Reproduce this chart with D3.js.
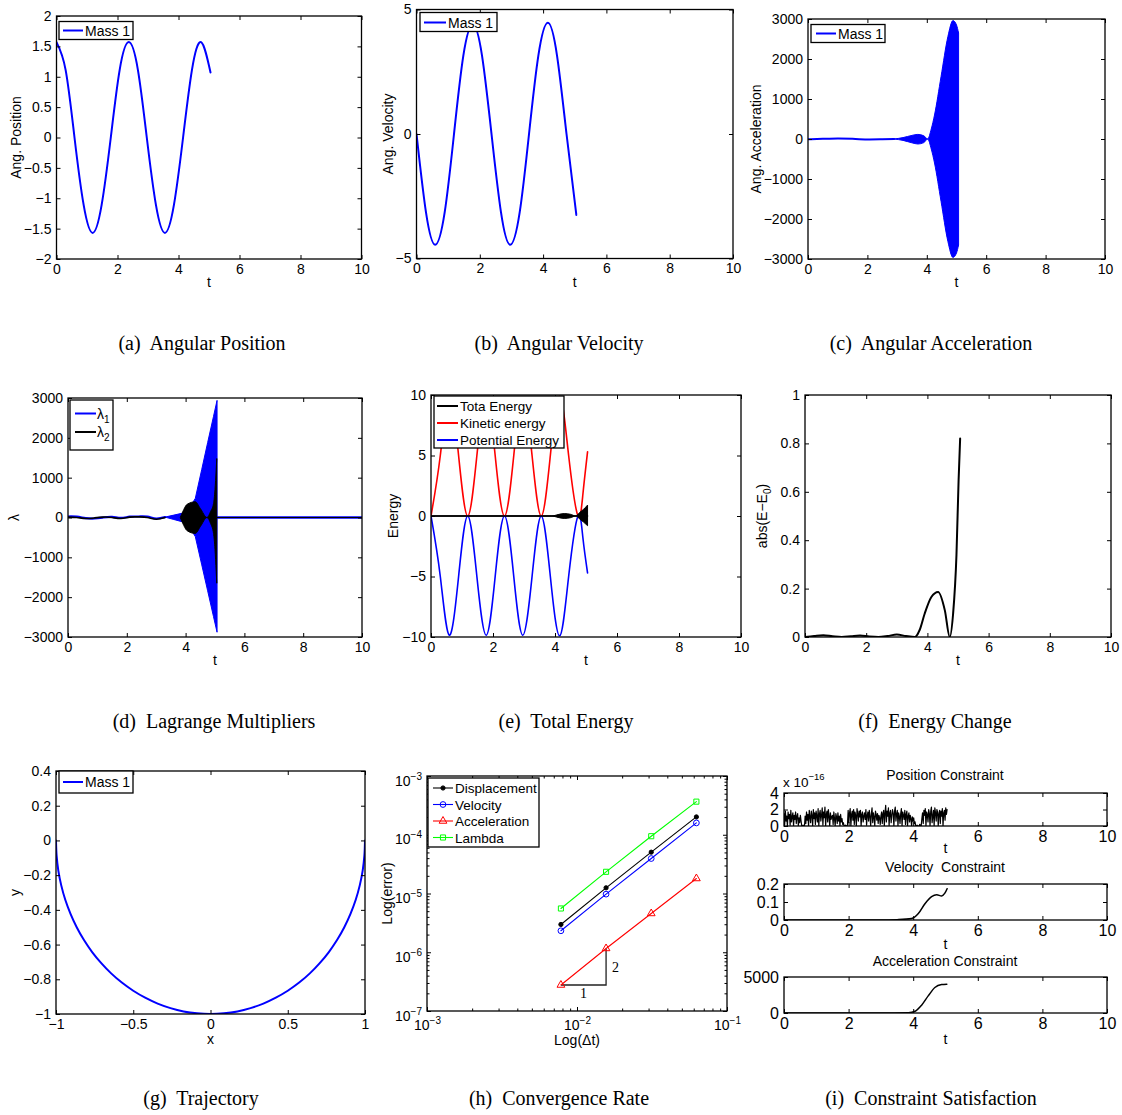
<!DOCTYPE html>
<html>
<head>
<meta charset="utf-8">
<script src="https://cdn.jsdelivr.net/npm/d3@7"></script>
<style>
  body { margin: 0; background: #fff; }
</style>
</head>
<body>
<script>
/*
 * Nine-panel pendulum figure (MATLAB style axes, drawn with d3)
 */

// ---------- data ----------

// (a) angular position / (b) angular velocity
var angT   = [0, 0.3, 0.59, 0.89, 1.185, 1.48, 1.78, 2.07, 2.37, 2.67, 2.96, 3.26, 3.555, 3.85, 4.15, 4.44, 4.74, 5.05];
var angPos = [1.57, 1.11, 0, -1.11, -1.57, -1.11, 0, 1.11, 1.57, 1.11, 0, -1.11, -1.57, -1.11, 0, 1.11, 1.57, 1.07];
var angVel = [0, -3.15, -4.45, -3.15, 0, 3.15, 4.4, 3.15, 0, -3.15, -4.45, -3.15, 0, 3.15, 4.47, 3.15, 0, -3.25];

// (c) angular acceleration: quiet part + envelope of the fast oscillation
var accLineT = [0, 0.5, 1, 1.5, 2, 2.5, 2.9];
var accLine  = [-5, 5, 15, 5, -10, -5, 0];
var accEnvT  = [2.9, 3.2, 3.5, 3.7, 3.9, 4.03, 4.15, 4.26, 4.48, 4.71, 4.88, 5.0, 5.07];
var accUp    = [0, 35, 90, 115, 80, 0, 250, 600, 1560, 2560, 2960, 2850, 2650];
var accLo    = [0, -35, -95, -125, -90, 0, -250, -600, -1560, -2560, -2960, -2850, -2650];

// (d) Lagrange multipliers
var lamLineT = [0, 0.3, 0.6, 0.9, 1.2, 1.5, 1.8, 2.1, 2.4, 2.7, 3.0, 3.3];
var lam1Line = [25, 20, -15, -25, 0, 15, -10, 20, 25, 20, -25, 10];
var lam2Line = [10, 0, -25, -10, 10, 0, -25, 10, 15, 0, -45, 0];
var lam1EnvT = [3.3, 3.6, 3.9, 4.1, 4.33, 4.55, 4.75, 4.95, 5.07];
var lam1Up   = [10, 60, 110, 200, 480, 1210, 1880, 2540, 2940];
var lam1Lo   = [10, -50, -110, -200, -480, -1190, -1840, -2490, -2880];
var lam2EnvT = [3.82, 3.9, 4.05, 4.33, 4.5, 4.73, 4.85, 4.95, 5.0, 5.04, 5.06];
var lam2Up   = [0, 140, 330, 395, 227, 0, 150, 350, 700, 1200, 1480];
var lam2Lo   = [0, -140, -330, -400, -230, 0, -150, -400, -800, -1350, -1650];
var lamTailT = [5.06, 10];
var lamTail  = [0, 0];

// (e) energies
var enT    = [0, 0.3, 0.59, 0.89, 1.185, 1.48, 1.78, 2.07, 2.37, 2.67, 2.96, 3.26, 3.555, 3.85, 4.15, 4.44, 4.74, 4.9, 5.05];
var kinE   = [0, 5, 9.85, 5, 0, 5, 9.85, 5, 0, 5, 9.85, 5, 0, 5, 9.9, 5, 0, 1.8, 5.3];
var potE   = [0, -5, -9.85, -5, 0, -5, -9.85, -5, 0, -5, -9.85, -5, 0, -5, -9.9, -5, 0, -1.8, -4.7];
var totT   = [0, 3.9, 4.1, 4.3, 4.5, 4.67, 4.8, 4.92, 5.05];
var totUp  = [0, 0, 0.12, 0.2, 0.14, 0, 0.3, 0.55, 0.9];
var totLo  = [0, 0, -0.12, -0.2, -0.14, 0, -0.25, -0.5, -0.8];

// (f) energy change
var dET = [0, 0.3, 0.6, 0.9, 1.2, 1.5, 1.8, 2.1, 2.4, 2.7, 3.0, 3.3, 3.59, 3.75, 3.91, 4.13, 4.35, 4.57, 4.73, 4.84, 4.95, 5.02, 5.07];
var dE  = [0, 0.004, 0.007, 0.003, 0, 0.003, 0.006, 0.002, 0, 0.004, 0.01, 0.004, 0, 0.03, 0.096, 0.165, 0.186, 0.11, 0, 0.096, 0.34, 0.65, 0.82];

// (g) trajectory
var trajX = [-1, -0.996, -0.985, -0.966, -0.94, -0.906, -0.866, -0.819, -0.766, -0.707, -0.643, -0.574, -0.5, -0.423, -0.342, -0.259, -0.174, -0.087,
             0, 0.087, 0.174, 0.259, 0.342, 0.423, 0.5, 0.574, 0.643, 0.707, 0.766, 0.819, 0.866, 0.906, 0.94, 0.966, 0.985, 0.996, 1];
var trajY = [0, -0.087, -0.174, -0.259, -0.342, -0.423, -0.5, -0.574, -0.643, -0.707, -0.766, -0.819, -0.866, -0.906, -0.94, -0.966, -0.985, -0.996,
             -1, -0.996, -0.985, -0.966, -0.94, -0.906, -0.866, -0.819, -0.766, -0.707, -0.643, -0.574, -0.5, -0.423, -0.342, -0.259, -0.174, -0.087, 0];

// (h) convergence
var dtVals   = [0.0078125, 0.015625, 0.03125, 0.0625];
var errDisp  = [2.97e-6, 1.25e-5, 5.05e-5, 2.01e-4];
var errVel   = [2.32e-6, 9.75e-6, 3.94e-5, 1.59e-4];
var errAcc   = [2.77e-7, 1.16e-6, 4.57e-6, 1.80e-5];
var errLam   = [5.56e-6, 2.34e-5, 9.44e-5, 3.66e-4];
var convNames = ["Displacement", "Velocity", "Acceleration", "Lambda"];

// (i) constraints
var posConDt = 5.05 / 239;   // sample spacing of the position trace
var posCon = [ // x 1e-16
  1.5,0.2,1.8,0.6,1.2,0,1.7,0.9,1.4,0.1,1.9,0.5,1.1,1.6,0,1.3,0.8,1.7,0.3,1.2,1.5,0,1.0,0.4,1.3,0.6,
  0,0,0.1,0,0,
  1.2,0.3,1.7,0.7,1.4,0,1.9,1.1,0.4,1.8,1.3,0,2.0,0.9,1.6,0.2,1.8,1.2,0.5,2.1,
  0,1.5,1.9,0.6,1.3,2.2,0.1,1.7,1.0,2.3,0,1.4,1.8,0.5,2.0,1.2,0,1.6,0.8,1.1,
  1.3,0.2,1.7,0.9,0,1.5,1.1,0.3,1.6,0.6,1.2,0,1.4,0.5,0.9,0.2,0.4,
  0,0,0.1,0,0,0.1,
  1.9,0.4,1.6,2.1,0,1.4,1.8,0.7,2.0,0.2,1.7,1.3,0,2.1,1.5,0.6,1.8,1.1,1.9,0,
  1.4,1.7,0.5,1.2,1.6,0.8,2.0,0.1,1.3,1.7,0.6,1.9,1.2,0,1.5,2.2,0.4,1.6,1.1,0,
  1.8,1.4,0.7,1.5,0.3,1.3,1.0,0.2,1.2,
  1.7,0.3,1.5,1.9,0,1.6,2.5,0.5,1.8,1.2,2.2,0,1.6,1.9,0.4,1.3,2.0,1.5,0,1.8,
  2.3,0.6,1.4,1.9,0,1.6,1.2,0.3,1.5,2.1,0,1.7,1.3,0.8,1.9,0.2,1.4,1.8,0,1.2,
  1.6,0.5,1.3,0.9,0,1.1,0.6,1.0,0.3,0.5,
  0,0,0.1,0,0,0,0.2,0,0,
  0.9,1.6,0.3,1.9,1.3,2.1,0,1.7,1.4,0.5,2.0,1.5,0,1.8,2.3,0.4,1.2,1.9,0,2.2,
  1.6,0.6,2.0,1.7,0,1.5,1.9,0.3,1.8,1.2,2.1,0,1.6,1.9,0.7,2.2,1.4,2.0
];
var velConT = [0, 3.0, 3.5, 3.95, 4.16, 4.37, 4.57, 4.73, 4.88, 4.98, 5.05];
var velCon  = [0, 0, 0.002, 0.008, 0.036, 0.092, 0.13, 0.14, 0.134, 0.149, 0.174];
var accConT = [0, 3.0, 3.85, 4.06, 4.26, 4.47, 4.67, 4.88, 5.04];
var accCon  = [0, 0, 40, 240, 1090, 2410, 3540, 3960, 4010];

var captions = ["(a)\u00a0 Angular Position", "(b)\u00a0 Angular Velocity", "(c)\u00a0 Angular Acceleration",
                "(d)\u00a0 Lagrange Multipliers", "(e)\u00a0 Total Energy", "(f)\u00a0 Energy Change",
                "(g)\u00a0 Trajectory", "(h)\u00a0 Convergence Rate", "(i)\u00a0 Constraint Satisfaction"];

var tTicks = [0, 2, 4, 6, 8, 10];

// ---------- helpers ----------
var FONT = '"Liberation Sans", Arial, Helvetica, sans-serif';
var SERIF = '"Liberation Serif", "Times New Roman", serif';
var fmt = d3.format("~g");

var svg = d3.select("body").append("svg")
    .attr("width", 1122).attr("height", 1115)
    .style("font-family", FONT);
svg.append("rect").attr("width", 1122).attr("height", 1115).attr("fill", "#fff");

var clipN = 0;

function makeAxes(b, xd, yd, o) {
    var x = (o.xlog ? d3.scaleLog() : d3.scaleLinear()).domain(xd).range([b.x0, b.x1]);
    var y = (o.ylog ? d3.scaleLog() : d3.scaleLinear()).domain(yd).range([b.y1, b.y0]);
    var g = svg.append("g");
    var id = "clip" + (clipN++);
    g.append("clipPath").attr("id", id).append("rect")
        .attr("x", b.x0).attr("y", b.y0).attr("width", b.x1 - b.x0).attr("height", b.y1 - b.y0);
    var plot = g.append("g").attr("clip-path", "url(#" + id + ")");
    var fs = o.fs || 14;

    function drawAxis(fn, scale, ticks, tx, ty, labels, size, pad) {
        var a = fn(scale).tickValues(ticks).tickSize(-size).tickPadding(pad)
            .tickFormat(labels ? fmt : function () { return ""; });
        var ag = g.append("g").attr("transform", "translate(" + tx + "," + ty + ")").call(a);
        ag.select(".domain").remove();
        ag.attr("font-size", fs).attr("font-family", FONT);
        ag.selectAll("line").attr("stroke", "#000");
        ag.selectAll("text").attr("fill", "#000");
        return ag;
    }
    function supLabels(ag) {
        ag.selectAll(".tick text").each(function (d) {
            var t = d3.select(this).text(null);
            t.append("tspan").text("10");
            t.append("tspan").attr("dy", -6).attr("font-size", 10)
                .text("\u2212" + Math.round(-Math.log10(d)));
        });
    }

    if (o.xminor) {
        drawAxis(d3.axisBottom, x, o.xminor, 0, b.y1, false, 2.5, 5);
        drawAxis(d3.axisTop, x, o.xminor, 0, b.y0, false, 2.5, 5);
    }
    if (o.yminor) {
        drawAxis(d3.axisLeft, y, o.yminor, b.x0, 0, false, 2.5, 5);
        drawAxis(d3.axisRight, y, o.yminor, b.x1, 0, false, 2.5, 5);
    }
    var bx = drawAxis(d3.axisBottom, x, o.xticks, 0, b.y1, true, 4, o.xlog ? 9 : 5);
    drawAxis(d3.axisTop, x, o.xticks, 0, b.y0, false, 4, 5);
    var ly = drawAxis(d3.axisLeft, y, o.yticks, b.x0, 0, true, 4, 5);
    drawAxis(d3.axisRight, y, o.yticks, b.x1, 0, false, 4, 5);
    if (o.xlog) supLabels(bx);
    if (o.ylog) { supLabels(ly); ly.selectAll(".tick text").attr("dy", "0.65em"); }

    g.append("rect")
        .attr("x", b.x0).attr("y", b.y0).attr("width", b.x1 - b.x0).attr("height", b.y1 - b.y0)
        .attr("fill", "none").attr("stroke", "#000").attr("stroke-width", 1.3);

    return { x: x, y: y, g: g, plot: plot, b: b };
}

function drawLine(ax, xs, ys, color, w, curve) {
    var pts = xs.map(function (v, i) { return [v, ys[i]]; });
    ax.plot.append("path").datum(pts)
        .attr("d", d3.line()
            .x(function (d) { return ax.x(d[0]); })
            .y(function (d) { return ax.y(d[1]); })
            .curve(curve || d3.curveLinear))
        .attr("fill", "none").attr("stroke", color).attr("stroke-width", w)
        .attr("stroke-linejoin", "round").attr("stroke-linecap", "round");
}

function drawBand(ax, xs, lo, hi, color, curve) {
    var pts = xs.map(function (v, i) { return [v, lo[i], hi[i]]; });
    ax.plot.append("path").datum(pts)
        .attr("d", d3.area()
            .x(function (d) { return ax.x(d[0]); })
            .y0(function (d) { return ax.y(d[1]); })
            .y1(function (d) { return ax.y(d[2]); })
            .curve(curve || d3.curveLinear))
        .attr("fill", color).attr("stroke", color).attr("stroke-width", 1);
}

function xlabel(ax, yb, fill) {
    var t = ax.g.append("text").attr("x", (ax.b.x0 + ax.b.x1) / 2).attr("y", yb)
        .attr("text-anchor", "middle").attr("font-size", 14);
    fill(t);
}
function ylabel(ax, xb, fill) {
    var t = ax.g.append("text")
        .attr("transform", "translate(" + xb + "," + (ax.b.y0 + ax.b.y1) / 2 + ") rotate(-90)")
        .attr("text-anchor", "middle").attr("font-size", 14);
    fill(t);
}
function txt(s) { return function (t) { t.text(s); }; }

function legend(ax, box, items) {
    var lg = ax.g.append("g").attr("font-size", box.fs || 14);
    lg.append("rect").attr("x", box.x).attr("y", box.y).attr("width", box.w).attr("height", box.h)
        .attr("fill", "#fff").attr("stroke", "#000").attr("stroke-width", 1.3);
    items.forEach(function (it, i) {
        var yy = box.y + box.first + i * box.step;
        lg.append("line").attr("x1", box.lx0).attr("x2", box.lx1).attr("y1", yy).attr("y2", yy)
            .attr("stroke", it.color).attr("stroke-width", it.w || 2);
        if (it.marker) {
            lg.append("path")
                .attr("transform", "translate(" + (box.lx0 + box.lx1) / 2 + "," + yy + ")")
                .attr("d", it.marker).attr("fill", it.mfill).attr("stroke", it.color).attr("stroke-width", 1);
        }
        var t = lg.append("text").attr("x", box.tx).attr("y", yy + 5);
        t.append("tspan").text(it.label);
        if (it.sub) t.append("tspan").attr("dy", 4).attr("font-size", 10).text(it.sub);
    });
}

// ---------- (a) angular position ----------
var axA = makeAxes({ x0: 56.5, x1: 361.5, y0: 16, y1: 259 }, [0, 10], [-2, 2],
    { xticks: tTicks, yticks: [-2, -1.5, -1, -0.5, 0, 0.5, 1, 1.5, 2] });
drawLine(axA, angT, angPos, "#0000ff", 2, d3.curveNatural);
xlabel(axA, 287, txt("t"));
ylabel(axA, 21, txt("Ang. Position"));
legend(axA, { x: 59, y: 21.5, w: 74, h: 18, first: 9, step: 0, lx0: 63, lx1: 83, tx: 85 },
    [{ color: "#0000ff", label: "Mass 1" }]);

// ---------- (b) angular velocity ----------
var axB = makeAxes({ x0: 416.5, x1: 733, y0: 9.5, y1: 258.5 }, [0, 10], [-5, 5],
    { xticks: tTicks, yticks: [-5, 0, 5] });
drawLine(axB, angT, angVel, "#0000ff", 2, d3.curveNatural);
xlabel(axB, 287, txt("t"));
ylabel(axB, 393, txt("Ang. Velocity"));
legend(axB, { x: 420, y: 12.5, w: 77, h: 19, first: 10, step: 0, lx0: 424, lx1: 446, tx: 448 },
    [{ color: "#0000ff", label: "Mass 1" }]);

// ---------- (c) angular acceleration ----------
var axC = makeAxes({ x0: 808, x1: 1105, y0: 19, y1: 259 }, [0, 10], [-3000, 3000],
    { xticks: tTicks, yticks: [-3000, -2000, -1000, 0, 1000, 2000, 3000] });
drawLine(axC, accLineT, accLine, "#0000ff", 2, d3.curveNatural);
drawBand(axC, accEnvT, accLo, accUp, "#0000ff", d3.curveMonotoneX);
xlabel(axC, 287, txt("t"));
ylabel(axC, 761, txt("Ang. Acceleration"));
legend(axC, { x: 811, y: 24.5, w: 74, h: 18, first: 9, step: 0, lx0: 816, lx1: 836, tx: 838 },
    [{ color: "#0000ff", label: "Mass 1" }]);

// ---------- (d) Lagrange multipliers ----------
var axD = makeAxes({ x0: 68, x1: 362, y0: 398, y1: 637 }, [0, 10], [-3000, 3000],
    { xticks: tTicks, yticks: [-3000, -2000, -1000, 0, 1000, 2000, 3000] });
drawLine(axD, lamLineT, lam1Line, "#0000ff", 2.2, d3.curveNatural);
drawBand(axD, lam1EnvT, lam1Lo, lam1Up, "#0000ff", d3.curveLinear);
drawLine(axD, lamTailT, lamTail, "#0000ff", 2.6);
drawLine(axD, lamLineT, lam2Line, "#000", 1.6, d3.curveNatural);
drawBand(axD, lam2EnvT, lam2Lo, lam2Up, "#000", d3.curveMonotoneX);
drawLine(axD, lamTailT, lamTail, "#000", 1);
xlabel(axD, 665, txt("t"));
ylabel(axD, 19, txt("\u03bb"));
legend(axD, { x: 70, y: 400, w: 43, h: 50, first: 13.5, step: 18.5, lx0: 75, lx1: 96, tx: 97 },
    [{ color: "#0000ff", label: "\u03bb", sub: "1" }, { color: "#000", label: "\u03bb", sub: "2" }]);

// ---------- (e) total energy ----------
var axE = makeAxes({ x0: 431, x1: 741, y0: 395, y1: 637 }, [0, 10], [-10, 10],
    { xticks: tTicks, yticks: [-10, -5, 0, 5, 10] });
drawLine(axE, [0, 5.05], [0, 0], "#000", 1.5);
drawLine(axE, enT, kinE, "#ff0000", 1.6, d3.curveNatural);
drawLine(axE, enT, potE, "#0000ff", 1.6, d3.curveNatural);
drawBand(axE, totT, totLo, totUp, "#000", d3.curveMonotoneX);
xlabel(axE, 665, txt("t"));
ylabel(axE, 398, txt("Energy"));
legend(axE, { x: 434, y: 396, w: 130, h: 52, first: 10, step: 17, lx0: 437, lx1: 458, tx: 460, fs: 13.5 },
    [{ color: "#000", label: "Tota Energy" }, { color: "#ff0000", label: "Kinetic energy" },
     { color: "#0000ff", label: "Potential Energy" }]);

// ---------- (f) energy change ----------
var axF = makeAxes({ x0: 805, x1: 1111, y0: 395, y1: 637 }, [0, 10], [0, 1],
    { xticks: tTicks, yticks: [0, 0.2, 0.4, 0.6, 0.8, 1] });
drawLine(axF, dET, dE, "#000", 2, d3.curveMonotoneX);
xlabel(axF, 665, txt("t"));
ylabel(axF, 767, function (t) {
    t.append("tspan").text("abs(E\u2212E");
    t.append("tspan").attr("dy", 4).attr("font-size", 10).text("0");
    t.append("tspan").attr("dy", -4).text(")");
});

// ---------- (g) trajectory ----------
var axG = makeAxes({ x0: 56, x1: 365, y0: 771, y1: 1014 }, [-1, 1], [-1, 0.4],
    { xticks: [-1, -0.5, 0, 0.5, 1], yticks: [-1, -0.8, -0.6, -0.4, -0.2, 0, 0.2, 0.4] });
drawLine(axG, trajX, trajY, "#0000ff", 2, d3.curveCatmullRom.alpha(0.5));
xlabel(axG, 1044, txt("x"));
ylabel(axG, 20, txt("y"));
legend(axG, { x: 59, y: 771, w: 74, h: 22, first: 11, step: 0, lx0: 63, lx1: 83, tx: 85 },
    [{ color: "#0000ff", label: "Mass 1" }]);

// ---------- (h) convergence rate ----------
function minorTicks(lo, hi) {
    var out = [];
    for (var p = lo; p < hi; p++) {
        for (var k = 2; k <= 9; k++) out.push(k * Math.pow(10, p));
    }
    return out;
}
var axH = makeAxes({ x0: 427, x1: 727, y0: 776, y1: 1011 }, [1e-3, 1e-1], [1e-7, 1e-3],
    { xlog: true, ylog: true, xticks: [1e-3, 1e-2, 1e-1], yticks: [1e-7, 1e-6, 1e-5, 1e-4, 1e-3],
      xminor: minorTicks(-3, -1), yminor: minorTicks(-7, -3) });

var convSeries = [
    { v: errDisp, color: "#000", sym: d3.symbolCircle, size: 14, fill: "#000" },
    { v: errVel, color: "#0000ff", sym: d3.symbolCircle, size: 26, fill: "none" },
    { v: errAcc, color: "#ff0000", sym: d3.symbolTriangle, size: 26, fill: "none" },
    { v: errLam, color: "#00ff00", sym: d3.symbolSquare, size: 26, fill: "none" }
];
// slope triangle
axH.plot.append("path")
    .attr("d", "M" + axH.x(dtVals[0]) + "," + axH.y(errAcc[0]) +
               "H" + axH.x(dtVals[1]) + "V" + axH.y(errAcc[1]))
    .attr("fill", "none").attr("stroke", "#222").attr("stroke-width", 1.3);
axH.g.append("text").attr("x", (axH.x(dtVals[0]) + axH.x(dtVals[1])) / 2).attr("y", axH.y(errAcc[0]) + 13)
    .attr("text-anchor", "middle").attr("font-family", SERIF).attr("font-size", 14).text("1");
axH.g.append("text").attr("x", axH.x(dtVals[1]) + 6).attr("y", (axH.y(errAcc[0]) + axH.y(errAcc[1])) / 2 + 5)
    .attr("font-family", SERIF).attr("font-size", 14).text("2");

convSeries.forEach(function (s) {
    drawLine(axH, dtVals, s.v, s.color, 1.1);
    axH.plot.selectAll(null).data(dtVals).enter().append("path")
        .attr("transform", function (d, i) { return "translate(" + axH.x(d) + "," + axH.y(s.v[i]) + ")"; })
        .attr("d", d3.symbol().type(s.sym).size(s.size))
        .attr("fill", s.fill).attr("stroke", s.color).attr("stroke-width", 1);
});
xlabel(axH, 1045, txt("Log(\u0394t)"));
ylabel(axH, 392, txt("Log(error)"));
legend(axH, { x: 428, y: 778, w: 111, h: 69, first: 10, step: 16.5, lx0: 433, lx1: 453, tx: 455, fs: 13.5 },
    convSeries.map(function (s, i) {
        return { color: s.color, label: convNames[i], w: 1.1,
                 marker: d3.symbol().type(s.sym).size(s.size)(), mfill: s.fill };
    }));

// ---------- (i) constraint satisfaction ----------
var axI1 = makeAxes({ x0: 784, x1: 1107, y0: 793, y1: 826 }, [0, 10], [0, 4],
    { xticks: tTicks, yticks: [0, 2, 4], fs: 16 });
drawLine(axI1, posCon.map(function (v, i) { return i * posConDt; }), posCon, "#000", 1.2);
axI1.g.append("text").attr("x", 945).attr("y", 780).attr("text-anchor", "middle").attr("font-size", 14)
    .text("Position Constraint");
var ex = axI1.g.append("text").attr("x", 783).attr("y", 787).attr("font-size", 13.5);
ex.append("tspan").text("x 10");
ex.append("tspan").attr("dy", -7).attr("font-size", 9.5).text("\u221216");
xlabel(axI1, 853, txt("t"));

var axI2 = makeAxes({ x0: 784, x1: 1107, y0: 884, y1: 920 }, [0, 10], [0, 0.2],
    { xticks: tTicks, yticks: [0, 0.1, 0.2], fs: 16 });
drawLine(axI2, velConT, velCon, "#000", 1.5, d3.curveMonotoneX);
axI2.g.append("text").attr("x", 945).attr("y", 872).attr("text-anchor", "middle").attr("font-size", 14)
    .text("Velocity\u00a0 Constraint");
xlabel(axI2, 949, txt("t"));

var axI3 = makeAxes({ x0: 784, x1: 1107, y0: 977, y1: 1013 }, [0, 10], [0, 5000],
    { xticks: tTicks, yticks: [0, 5000], fs: 16 });
drawLine(axI3, accConT, accCon, "#000", 1.5, d3.curveMonotoneX);
axI3.g.append("text").attr("x", 945).attr("y", 966).attr("text-anchor", "middle").attr("font-size", 14)
    .text("Acceleration Constraint");
xlabel(axI3, 1044, txt("t"));

// ---------- sub-figure captions ----------
var capX = [202, 559, 931, 214, 566, 935, 201, 559, 931];
var capY = [350, 350, 350, 728, 728, 728, 1105, 1105, 1105];
svg.selectAll("text.cap").data(captions).enter().append("text")
    .attr("class", "cap")
    .attr("x", function (d, i) { return capX[i]; })
    .attr("y", function (d, i) { return capY[i]; })
    .attr("text-anchor", "middle")
    .attr("font-family", SERIF).attr("font-size", 20)
    .text(function (d) { return d; });
</script>
</body>
</html>
